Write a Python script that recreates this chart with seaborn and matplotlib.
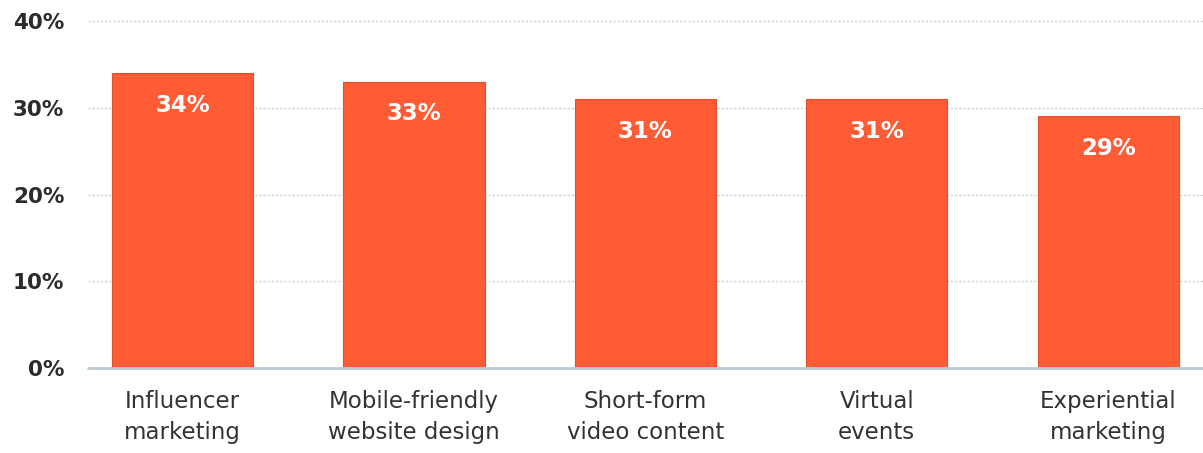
import matplotlib
matplotlib.use("Agg")
import matplotlib.pyplot as plt
import seaborn as sns
import pandas as pd

# Marketing trends and the share of marketers investing in each
categories = [
    "Influencer\nmarketing",
    "Mobile-friendly\nwebsite design",
    "Short-form\nvideo content",
    "Virtual\nevents",
    "Experiential\nmarketing",
]
values = [34, 33, 31, 31, 29]
y_ticks = [0, 10, 20, 30, 40]
y_tick_labels = ["0%", "10%", "20%", "30%", "40%"]

BAR_COLOR = "#FF5C35"
TEXT_DARK = "#2b2b2b"

sns.set_theme(style="white")
plt.rcParams["font.family"] = ["DejaVu Sans"]

df = pd.DataFrame({"trend": categories, "share": values})

fig = plt.figure(figsize=(12.03, 4.53), dpi=100)
ax = fig.add_axes([0.073, 0.1876, 0.927, 0.785])

sns.barplot(data=df, x="trend", y="share", color=BAR_COLOR, width=0.61,
            saturation=1, edgecolor="#e0502e", linewidth=0.8, ax=ax, zorder=3)

ax.set_ylim(0, 41)
ax.set_xlim(-0.41, 4.41)
ax.set_yticks(y_ticks)
ax.set_yticklabels(y_tick_labels, fontsize=15.5, fontweight="bold", color=TEXT_DARK)
ax.tick_params(axis="y", length=0, pad=17)
ax.tick_params(axis="x", length=0, pad=16)
for lbl in ax.get_xticklabels():
    lbl.set_fontsize(16.5)
    lbl.set_color("#333333")
    lbl.set_linespacing(1.45)

ax.set_xlabel("")
ax.set_ylabel("")

# dotted grid lines and a solid baseline
for t in y_ticks[1:]:
    ax.axhline(t, color="#c8ccd1", linestyle=(0, (1.5, 1.5)), linewidth=1.0, zorder=1)
ax.axhline(0, color="#bccad4", linewidth=2.0, zorder=4, clip_on=False)

for s in ax.spines.values():
    s.set_visible(False)

# value labels inside the top of each bar
for i, v in enumerate(values):
    ax.annotate(f"{v}%", xy=(i, v), xytext=(0, -23), textcoords="offset points",
                ha="center", va="center", fontsize=16.5, fontweight="bold",
                color="white", zorder=5)

fig.savefig("out.png", dpi=100, facecolor="white")
